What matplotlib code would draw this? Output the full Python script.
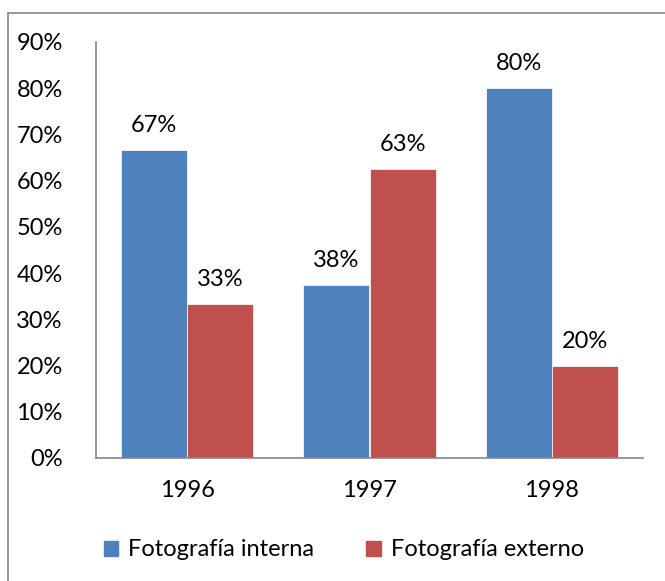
import matplotlib
matplotlib.use("Agg")
import matplotlib.pyplot as plt
from matplotlib.patches import Rectangle, Patch
import numpy as np

plt.rcParams['font.family'] = ['Lato', 'DejaVu Sans']

years = ["1996", "1997", "1998"]
interna = [66.7, 37.5, 80.0]
externo = [33.3, 62.5, 20.0]
interna_labels = ["67%", "38%", "80%"]
externo_labels = ["33%", "63%", "20%"]
series_names = ["Fotografía interna", "Fotografía externo"]
yticks = [0, 10, 20, 30, 40, 50, 60, 70, 80, 90]

W, H = 665, 581
fig = plt.figure(figsize=(W/100, H/100), dpi=100)
ax = fig.add_axes([96/W, 1-458/H, (643-96)/W, (458-42)/H])

blue = "#4F81BD"
red = "#C0504D"
x = np.arange(len(years))
bw = 66/182.3
ax.bar(x - bw/2, interna, bw, color=blue, edgecolor="white", linewidth=0.5)
ax.bar(x + bw/2, externo, bw, color=red, edgecolor="white", linewidth=0.5)

fs = 17
for xi, v, lab in zip(x, interna, interna_labels):
    ax.annotate(lab, (xi - bw/2, v), xytext=(0, 10), textcoords="offset points",
                ha="center", va="bottom", fontsize=fs, color="black")
for xi, v, lab in zip(x, externo, externo_labels):
    ax.annotate(lab, (xi + bw/2, v), xytext=(0, 10), textcoords="offset points",
                ha="center", va="bottom", fontsize=fs, color="black")

ax.set_xlim(-0.5, 2.5)
ax.set_ylim(0, 90)
ax.set_yticks(yticks)
ax.set_yticklabels([f"{t}%" for t in yticks], fontsize=fs)
ax.set_xticks(x)
ax.set_xticklabels(years, fontsize=fs)
ax.tick_params(axis="both", length=0)
ax.tick_params(axis="y", pad=24)
ax.tick_params(axis="x", pad=16)
for s in ["top", "right"]:
    ax.spines[s].set_visible(False)
for s in ["left", "bottom"]:
    ax.spines[s].set_color("#868686")
    ax.spines[s].set_linewidth(1.2)

handles = [Patch(color=blue), Patch(color=red)]
fig.legend(handles, series_names, loc="center", bbox_to_anchor=(344/W, 1-550/H),
           ncol=2, frameon=False, fontsize=fs, handlelength=0.6, handleheight=0.6,
           handletextpad=0.45, columnspacing=2.2)

border = Rectangle((8/W, -0.1), 1.2, 1.1 - 13/H, transform=fig.transFigure,
                   fill=False, edgecolor="#868686", linewidth=1.2, clip_on=False)
fig.patches.append(border)

fig.savefig("out.png", dpi=100)
